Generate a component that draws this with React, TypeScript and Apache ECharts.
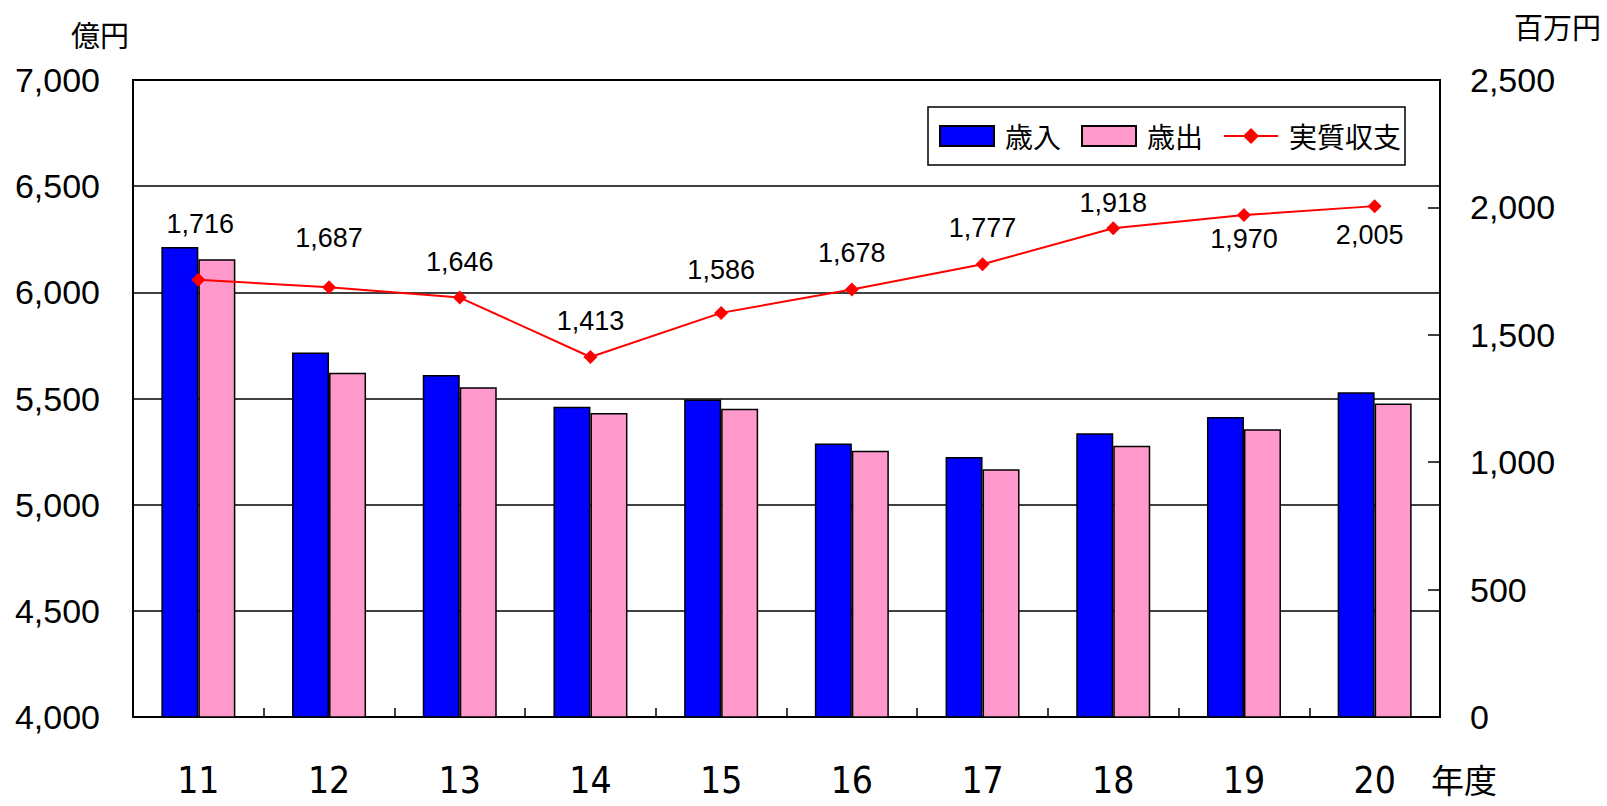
import React, { useEffect, useRef } from "react";
import * as echarts from "echarts";

// Fiscal years (年度)
const years = ["11", "12", "13", "14", "15", "16", "17", "18", "19", "20"];
// 歳入 / 歳出, 億円
const revenue = [6214, 5717, 5611, 5461, 5495, 5288, 5225, 5336, 5413, 5529];
const expenditure = [6156, 5621, 5553, 5432, 5452, 5254, 5167, 5278, 5355, 5476];
// 実質収支, 百万円
const balance = [1716, 1687, 1646, 1413, 1586, 1678, 1777, 1918, 1970, 2005];

// Left axis range (億円) and right axis range (百万円)
const leftMin = 4000;
const leftMax = 7000;
const leftStep = 500;
const rightMin = 0;
const rightMax = 2500;
const rightStep = 500;

// Where each balance label sits relative to its point (px)
const balanceLabelOffsets: [number, number][] = [
  [2, -56], [0, -49], [0, -36], [0, -36], [0, -43],
  [0, -36], [0, -36], [0, -25], [0, 24], [-5, 29],
];

const NUM_FONT = "'Liberation Sans', Arial, 'Noto Sans CJK JP', sans-serif";
const JP_FONT = "'Noto Sans CJK JP', sans-serif";
const NARROW_FONT = "'DejaVu Sans Condensed', 'Liberation Sans Narrow', 'Liberation Sans', sans-serif";

const fmt = (v: number) => v.toLocaleString("en-US");

export default function App() {
  const ref = useRef<HTMLDivElement>(null);

  useEffect(() => {
    if (!ref.current) return;
    const chart = echarts.init(ref.current, null, { renderer: "svg" });

    chart.setOption({
      animation: false,
      backgroundColor: "#ffffff",
      grid: {
        left: 133,
        right: 167,
        top: 80,
        bottom: 89,
        show: true,
        borderColor: "#000",
        borderWidth: 2,
        backgroundColor: "transparent",
      },
      legend: {
        left: 928,
        top: 107,
        padding: [15, 4, 15, 11],
        borderColor: "#000",
        borderWidth: 1.5,
        backgroundColor: "#fff",
        itemWidth: 54,
        itemHeight: 20,
        itemGap: 20,
        textStyle: {
          fontFamily: JP_FONT,
          fontSize: 28,
          color: "#000",
          padding: [0, 0, 0, 6],
        },
        data: [
          { name: "歳入", icon: "rect" },
          { name: "歳出", icon: "rect" },
          { name: "実質収支" },
        ],
      },
      graphic: [
        {
          type: "text",
          left: 71,
          top: 19,
          style: { text: "億円", fontFamily: JP_FONT, fontSize: 29, fill: "#000" },
        },
        {
          type: "text",
          left: 1514,
          top: 11,
          style: { text: "百万円", fontFamily: JP_FONT, fontSize: 29, fill: "#000" },
        },
        {
          type: "text",
          left: 1431,
          top: 762,
          style: {
            text: "年度",
            fontFamily: JP_FONT,
            fontSize: 33,
            lineHeight: 33,
            fill: "#000",
          },
        },
      ],
      xAxis: {
        type: "category",
        data: years,
        boundaryGap: true,
        axisLine: { show: true, lineStyle: { color: "#000", width: 2 } },
        axisTick: { show: true, inside: true, length: 9, lineStyle: { color: "#000", width: 1.5 } },
        axisLabel: {
          margin: 45,
          fontFamily: NARROW_FONT,
          fontSize: 37,
          lineHeight: 37,
          color: "#000",
        },
      },
      yAxis: [
        {
          type: "value",
          min: leftMin,
          max: leftMax,
          interval: leftStep,
          position: "left",
          axisLine: { show: true, lineStyle: { color: "#000", width: 2 } },
          axisTick: { show: false },
          splitLine: { show: true, lineStyle: { color: "#000", width: 1.5 } },
          axisLabel: {
            margin: 33,
            formatter: fmt,
            fontFamily: NUM_FONT,
            fontSize: 34,
            color: "#000",
          },
        },
        {
          type: "value",
          min: rightMin,
          max: rightMax,
          interval: rightStep,
          position: "right",
          axisLine: { show: true, lineStyle: { color: "#000", width: 2 } },
          axisTick: { show: true, inside: true, length: 12, lineStyle: { color: "#000", width: 1.5 } },
          splitLine: { show: false },
          axisLabel: {
            margin: 30,
            formatter: fmt,
            fontFamily: NUM_FONT,
            fontSize: 34,
            color: "#000",
          },
        },
      ],
      series: [
        {
          name: "歳入",
          type: "bar",
          yAxisIndex: 0,
          data: revenue,
          barWidth: 37,
          barGap: "0%",
          itemStyle: { color: "#0000ff", borderColor: "#000", borderWidth: 1.5 },
        },
        {
          name: "歳出",
          type: "bar",
          yAxisIndex: 0,
          data: expenditure,
          barWidth: 37,
          barGap: "0%",
          itemStyle: { color: "#ff99cc", borderColor: "#000", borderWidth: 1.5 },
        },
        {
          name: "実質収支",
          type: "line",
          yAxisIndex: 1,
          z: 5,
          symbol: "diamond",
          symbolSize: 14,
          lineStyle: { color: "#ff0000", width: 2 },
          itemStyle: { color: "#ff0000" },
          data: balance.map((v, i) => ({
            value: v,
            label: { offset: balanceLabelOffsets[i] },
          })),
          label: {
            show: true,
            position: "inside",
            formatter: (p: any) => fmt(p.value),
            fontFamily: NUM_FONT,
            fontSize: 27,
            color: "#000",
          },
        },
      ],
    });

    return () => chart.dispose();
  }, []);

  return (
    <div
      ref={ref}
      style={{ position: "fixed", left: 0, top: 0, width: 1607, height: 806 }}
    />
  );
}
